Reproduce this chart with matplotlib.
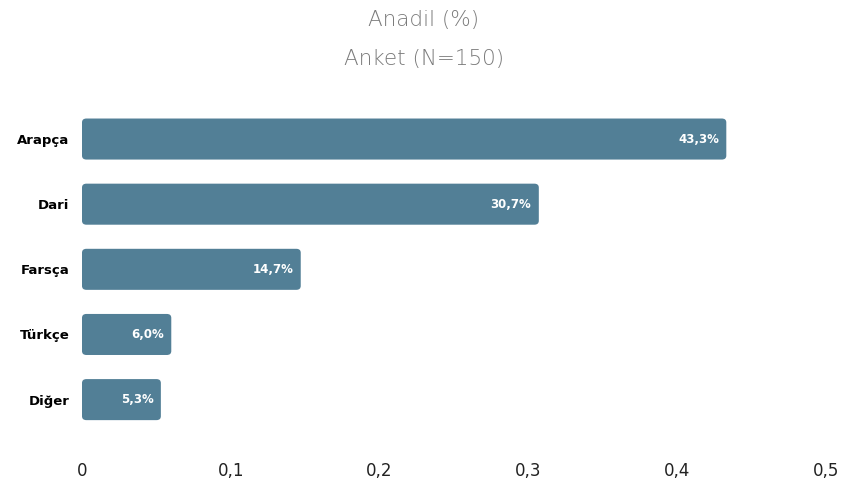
import matplotlib
matplotlib.use("Agg")
import matplotlib.pyplot as plt
from matplotlib.patches import FancyBboxPatch

categories = ["Arapça", "Dari", "Farsça", "Türkçe", "Diğer"]
values = [0.433, 0.307, 0.147, 0.060, 0.053]
value_labels = ["43,3%", "30,7%", "14,7%", "6,0%", "5,3%"]
xticks = [0, 0.1, 0.2, 0.3, 0.4, 0.5]
xtick_labels = ["0", "0,1", "0,2", "0,3", "0,4", "0,5"]

bar_color = "#527f96"

fig = plt.figure(figsize=(8.48, 4.93), dpi=100)
ax = fig.add_axes([82/848, 1 - 440/493, (826-82)/848, (440-95)/493])

ypos = list(range(len(categories)))
height = 0.63
bars = ax.barh(ypos, values, height=height, color=bar_color)
# rounded corners
for b in bars:
    b.set_visible(False)
    p = FancyBboxPatch((b.get_x(), b.get_y()), b.get_width(), b.get_height(),
                       boxstyle="round,pad=0,rounding_size=0.003",
                       mutation_aspect=20, color=bar_color, linewidth=0)
    ax.add_patch(p)

for y, v, lab in zip(ypos, values, value_labels):
    ax.text(v - 0.005, y, lab, ha="right", va="center", color="white",
            fontsize=8.5, fontweight="bold", family="DejaVu Sans")

ax.set_xlim(0, 0.5)
ax.set_ylim(4.62, -0.676)
ax.set_yticks(ypos)
ax.set_yticklabels(categories, fontsize=9.5, fontweight="bold")
ax.set_xticks(xticks)
ax.set_xticklabels(xtick_labels, fontsize=12, color="#222222")
ax.tick_params(axis="both", length=0)
ax.tick_params(axis="x", pad=16)
ax.tick_params(axis="y", pad=9)
for s in ax.spines.values():
    s.set_visible(False)

fig.text(0.5, 1 - 20/493, "Anadil (%)", ha="center", va="center",
         fontsize=15.5, color="#7a7a7a", family="DejaVu Sans", fontweight="light")
fig.text(0.5, 1 - 59/493, "Anket (N=150)", ha="center", va="center",
         fontsize=15.5, color="#7a7a7a", family="DejaVu Sans", fontweight="light")

fig.savefig("out.png", dpi=100, facecolor="white")
